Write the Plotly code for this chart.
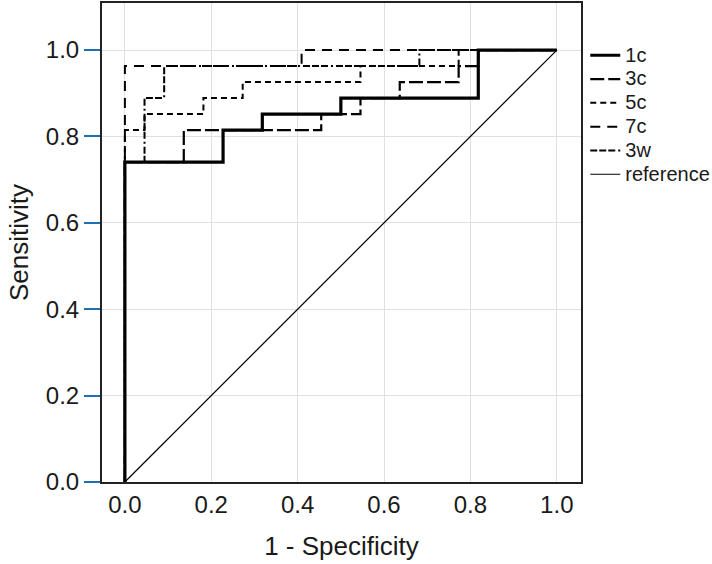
import plotly.graph_objects as go

# Number of positives = 27, negatives = 22 (ROC steps)
NP = 27
NN = 22

# ROC curve vertices (1 - specificity counts, sensitivity counts)
fpr_1c = [0, 0, 5, 5, 7, 7, 11, 11, 18, 18, 22]
tpr_1c = [0, 20, 20, 22, 22, 23, 23, 24, 24, 27, 27]

fpr_3c = [0, 0, 3, 3, 10, 10, 12, 12, 14, 14, 17, 17, 18, 18, 22]
tpr_3c = [0, 20, 20, 22, 22, 23, 23, 24, 24, 25, 25, 26, 26, 27, 27]

fpr_5c = [0, 0, 1, 1, 4, 4, 6, 6, 12, 12, 17, 17, 22]
tpr_5c = [0, 22, 22, 23, 23, 24, 24, 25, 25, 26, 26, 27, 27]

fpr_7c = [0, 0, 9, 9, 22]
tpr_7c = [0, 26, 26, 27, 27]

fpr_3w = [0, 0, 1, 1, 2, 2, 15, 15, 22]
tpr_3w = [0, 20, 20, 24, 24, 26, 26, 27, 27]

ref_x = [0, 1]
ref_y = [0, 1]

x_ticks = [0.0, 0.2, 0.4, 0.6, 0.8, 1.0]
y_ticks = [0.0, 0.2, 0.4, 0.6, 0.8, 1.0]
tick_text = ["0.0", "0.2", "0.4", "0.6", "0.8", "1.0"]

FONT = "Liberation Sans, Arial, sans-serif"


def norm(xs, n):
    return [v / n for v in xs]


def lbl(s):
    return '<span style="font-size:20px">' + s + "</span>"


series = [
    # name, fpr, tpr, width, dash, rank
    ("reference", ref_x, ref_y, 1.2, "solid", 6),
    ("3w", norm(fpr_3w, NN), norm(tpr_3w, NP), 2, "7px,2px,7px,2px,7px,3px,2px,3px", 5),
    ("7c", norm(fpr_7c, NN), norm(tpr_7c, NP), 2, "10px,7px", 4),
    ("5c", norm(fpr_5c, NN), norm(tpr_5c, NP), 2, "6px,4px", 3),
    ("3c", norm(fpr_3c, NN), norm(tpr_3c, NP), 2.2, "14px,4px", 2),
    ("1c", norm(fpr_1c, NN), norm(tpr_1c, NP), 3.2, "solid", 1),
]

fig = go.Figure()
for name, xs, ys, w, dash, rank in series:
    fig.add_trace(go.Scatter(
        x=xs, y=ys, mode="lines", name=lbl(name), legendrank=rank,
        line=dict(color="black", width=w, dash=dash),
        hoverinfo="skip",
    ))

fig.update_layout(
    width=712, height=564,
    margin=dict(l=102, r=131, t=3, b=82),
    paper_bgcolor="white", plot_bgcolor="white",
    font=dict(family=FONT, color="#1a1a1a"),
    legend=dict(
        xref="container", yref="container",
        x=0.822, y=0.932, xanchor="left", yanchor="top",
        bgcolor="white", font=dict(size=16, family=FONT, color="#1a1a1a"),
        tracegroupgap=0, itemwidth=30,
    ),
    showlegend=True,
)
fig.update_xaxes(
    range=[-0.053, 1.056], tickvals=x_ticks, ticktext=tick_text,
    showgrid=True, gridcolor="#e0e0e0", gridwidth=1, zeroline=False,
    showline=True, linecolor="#222", linewidth=2, mirror=True,
    ticks="", tickfont=dict(size=24), automargin=False,
    title=dict(text="1 - Specificity", font=dict(size=26), standoff=20),
)
fig.update_yaxes(
    range=[0, 1.109], tickvals=y_ticks, ticktext=tick_text,
    showgrid=True, gridcolor="#e0e0e0", gridwidth=1, zeroline=False,
    showline=True, linecolor="#222", linewidth=2, mirror=True,
    ticks="outside", ticklen=16, tickwidth=2, tickcolor="#1f6fb4",
    tickfont=dict(size=24), automargin=False,
    title=dict(text="Sensitivity", font=dict(size=26), standoff=10),
)

fig.write_html(
    "out.html",
    config={"displayModeBar": False},
    post_script="document.body.style.margin='0';document.body.style.padding='0';",
)
